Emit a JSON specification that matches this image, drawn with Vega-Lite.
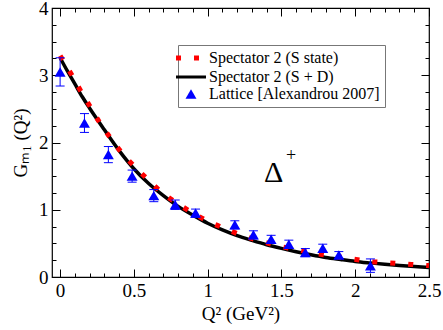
{
  "$schema": "https://vega.github.io/schema/vega-lite/v6.json",
  "width": 377,
  "height": 269,
  "autosize": "none",
  "padding": {"left": 52, "top": 8, "right": 14, "bottom": 53},
  "background": "white",
  "config": {
    "view": {"stroke": "black", "strokeWidth": 1.2},
    "axis": {
      "labelFont": "Liberation Serif",
      "titleFont": "Liberation Serif",
      "labelColor": "black",
      "titleColor": "black",
      "tickColor": "black",
      "domain": false,
      "grid": false,
      "labelFontSize": 19,
      "titleFontSize": 19,
      "titleFontWeight": "normal"
    },
    "legend": {"labelFont": "Liberation Serif", "titleFont": "Liberation Serif"}
  },
  "datasets": {
    "black": [
      {"q": 0, "g": 3.26, "series": "Spectator 2 (S + D)"},
      {"q": 0.05, "g": 3.06, "series": "Spectator 2 (S + D)"},
      {"q": 0.1, "g": 2.87, "series": "Spectator 2 (S + D)"},
      {"q": 0.15, "g": 2.68, "series": "Spectator 2 (S + D)"},
      {"q": 0.2, "g": 2.51, "series": "Spectator 2 (S + D)"},
      {"q": 0.3, "g": 2.19, "series": "Spectator 2 (S + D)"},
      {"q": 0.4, "g": 1.88, "series": "Spectator 2 (S + D)"},
      {"q": 0.5, "g": 1.61, "series": "Spectator 2 (S + D)"},
      {"q": 0.6, "g": 1.39, "series": "Spectator 2 (S + D)"},
      {"q": 0.7, "g": 1.21, "series": "Spectator 2 (S + D)"},
      {"q": 0.8, "g": 1.05, "series": "Spectator 2 (S + D)"},
      {"q": 0.9, "g": 0.92, "series": "Spectator 2 (S + D)"},
      {"q": 1.0, "g": 0.8, "series": "Spectator 2 (S + D)"},
      {"q": 1.1, "g": 0.7, "series": "Spectator 2 (S + D)"},
      {"q": 1.2, "g": 0.615, "series": "Spectator 2 (S + D)"},
      {"q": 1.3, "g": 0.545, "series": "Spectator 2 (S + D)"},
      {"q": 1.4, "g": 0.48, "series": "Spectator 2 (S + D)"},
      {"q": 1.5, "g": 0.425, "series": "Spectator 2 (S + D)"},
      {"q": 1.6, "g": 0.375, "series": "Spectator 2 (S + D)"},
      {"q": 1.7, "g": 0.33, "series": "Spectator 2 (S + D)"},
      {"q": 1.8, "g": 0.29, "series": "Spectator 2 (S + D)"},
      {"q": 1.9, "g": 0.26, "series": "Spectator 2 (S + D)"},
      {"q": 2.0, "g": 0.232, "series": "Spectator 2 (S + D)"},
      {"q": 2.1, "g": 0.21, "series": "Spectator 2 (S + D)"},
      {"q": 2.2, "g": 0.19, "series": "Spectator 2 (S + D)"},
      {"q": 2.3, "g": 0.172, "series": "Spectator 2 (S + D)"},
      {"q": 2.4, "g": 0.155, "series": "Spectator 2 (S + D)"},
      {"q": 2.5, "g": 0.14, "series": "Spectator 2 (S + D)"}
    ],
    "red": [
      {"q": 0, "g": 3.29, "series": "Spectator 2 (S state)"},
      {"q": 0.075, "g": 3.02, "series": "Spectator 2 (S state)"},
      {"q": 0.136, "g": 2.78, "series": "Spectator 2 (S state)"},
      {"q": 0.204, "g": 2.53, "series": "Spectator 2 (S state)"},
      {"q": 0.267, "g": 2.3, "series": "Spectator 2 (S state)"},
      {"q": 0.34, "g": 2.07, "series": "Spectator 2 (S state)"},
      {"q": 0.415, "g": 1.855, "series": "Spectator 2 (S state)"},
      {"q": 0.503, "g": 1.646, "series": "Spectator 2 (S state)"},
      {"q": 0.59, "g": 1.46, "series": "Spectator 2 (S state)"},
      {"q": 0.685, "g": 1.264, "series": "Spectator 2 (S state)"},
      {"q": 0.79, "g": 1.1, "series": "Spectator 2 (S state)"},
      {"q": 0.889, "g": 0.966, "series": "Spectator 2 (S state)"},
      {"q": 1.004, "g": 0.826, "series": "Spectator 2 (S state)"},
      {"q": 1.122, "g": 0.716, "series": "Spectator 2 (S state)"},
      {"q": 1.236, "g": 0.617, "series": "Spectator 2 (S state)"},
      {"q": 1.356, "g": 0.537, "series": "Spectator 2 (S state)"},
      {"q": 1.474, "g": 0.463, "series": "Spectator 2 (S state)"},
      {"q": 1.594, "g": 0.413, "series": "Spectator 2 (S state)"},
      {"q": 1.72, "g": 0.354, "series": "Spectator 2 (S state)"},
      {"q": 1.845, "g": 0.313, "series": "Spectator 2 (S state)"},
      {"q": 1.967, "g": 0.273, "series": "Spectator 2 (S state)"},
      {"q": 2.09, "g": 0.234, "series": "Spectator 2 (S state)"},
      {"q": 2.217, "g": 0.213, "series": "Spectator 2 (S state)"},
      {"q": 2.34, "g": 0.194, "series": "Spectator 2 (S state)"},
      {"q": 2.465, "g": 0.175, "series": "Spectator 2 (S state)"},
      {"q": 2.5, "g": 0.17, "series": "Spectator 2 (S state)"}
    ],
    "lattice": [
      {"q": 0.0, "g": 3.05, "lo": 2.84, "hi": 3.26},
      {"q": 0.165, "g": 2.29, "lo": 2.15, "hi": 2.43},
      {"q": 0.327, "g": 1.82, "lo": 1.7, "hi": 1.94},
      {"q": 0.488, "g": 1.5, "lo": 1.41, "hi": 1.59},
      {"q": 0.635, "g": 1.21, "lo": 1.12, "hi": 1.3},
      {"q": 0.78, "g": 1.075, "lo": 1.005, "hi": 1.145},
      {"q": 0.918, "g": 0.95, "lo": 0.89, "hi": 1.01},
      {"q": 1.184, "g": 0.776, "lo": 0.716, "hi": 0.836},
      {"q": 1.31, "g": 0.627, "lo": 0.567, "hi": 0.687},
      {"q": 1.43, "g": 0.56, "lo": 0.5, "hi": 0.62},
      {"q": 1.55, "g": 0.488, "lo": 0.428, "hi": 0.548},
      {"q": 1.662, "g": 0.363, "lo": 0.303, "hi": 0.423},
      {"q": 1.78, "g": 0.428, "lo": 0.368, "hi": 0.488},
      {"q": 1.889, "g": 0.328, "lo": 0.278, "hi": 0.378},
      {"q": 2.103, "g": 0.169, "lo": 0.069, "hi": 0.269}
    ],
    "delta": [{"q": 1.447, "g": 1.41, "t": "Δ"}],
    "plus": [{"q": 1.565, "g": 1.8, "t": "+"}]
  },
  "resolve": {"axis": {"x": "independent", "y": "independent"}},
  "layer": [
    {
      "data": {"name": "black"},
      "mark": {"type": "line", "strokeWidth": 3.5, "interpolate": "monotone"},
      "encoding": {
        "x": {
          "field": "q", "type": "quantitative",
          "scale": {"domain": [-0.055, 2.5], "nice": false, "zero": false},
          "axis": {"orient": "bottom", "values": [0, 0.5, 1, 1.5, 2, 2.5], "format": "~g", "ticks": false, "labelPadding": 4, "labelFlush": false, "labelOverlap": false, "title": "Q² (GeV²)", "titlePadding": 4}
        },
        "y": {
          "field": "g", "type": "quantitative",
          "scale": {"domain": [0, 4], "nice": false, "zero": false},
          "axis": {"orient": "left", "values": [0, 1, 2, 3, 4], "format": "d", "ticks": false, "labelPadding": 4, "labelFlush": false, "labelOverlap": false, "title": "Gₘ₁ (Q²)", "titlePadding": 8}
        },
        "color": {
          "field": "series", "type": "nominal",
          "scale": {"domain": ["Spectator 2 (S state)", "Spectator 2 (S + D)", "Lattice [Alexandrou 2007]"], "range": ["#ff0000", "#000000", "#0000ff"]},
          "legend": {
            "title": null, "orient": "none", "legendX": 126, "legendY": 37,
            "strokeColor": "#777777", "fillColor": "white", "padding": 5,
            "labelFont": "Liberation Serif", "labelFontSize": 16, "labelColor": "black", "labelLimit": 300,
            "labelOffset": 10, "rowPadding": 1,
            "symbolType": "stroke", "symbolSize": 900, "symbolStrokeWidth": 3,
            "encode": {
              "labels": {"update": {"font": {"value": "Liberation Serif"}, "fontSize": {"value": 16}}},
              "symbols": {
                "update": {
                  "shape": {"signal": "datum.value === 'Lattice [Alexandrou 2007]' ? 'triangle-up' : 'stroke'"},
                  "size": {"signal": "datum.value === 'Lattice [Alexandrou 2007]' ? 120 : 900"},
                  "strokeDash": {"signal": "datum.value === 'Spectator 2 (S state)' ? [5, 13] : [1, 0]"},
                  "strokeWidth": {"signal": "datum.value === 'Spectator 2 (S state)' ? 5 : (datum.value === 'Lattice [Alexandrou 2007]' ? 0 : 3)"},
                  "fill": {"signal": "datum.value === 'Lattice [Alexandrou 2007]' ? '#0000ff' : 'transparent'"},
                  "fillOpacity": {"value": 1},
                  "strokeCap": {"value": "butt"}
                }
              }
            }
          }
        }
      }
    },
    {
      "data": {"name": "red"},
      "mark": {"type": "line", "strokeWidth": 5, "strokeDash": [5, 13], "strokeCap": "butt", "interpolate": "monotone"},
      "encoding": {
        "x": {"field": "q", "type": "quantitative", "axis": {"orient": "bottom", "values": [0, 0.5, 1, 1.5, 2, 2.5], "labels": false, "tickSize": -8, "title": null}},
        "y": {"field": "g", "type": "quantitative", "axis": {"orient": "left", "values": [0, 1, 2, 3, 4], "labels": false, "tickSize": -8, "title": null}},
        "color": {"field": "series", "type": "nominal"}
      }
    },
    {
      "data": {"name": "lattice"},
      "mark": {"type": "rule", "color": "#0000ff", "strokeWidth": 1},
      "encoding": {
        "x": {"field": "q", "type": "quantitative", "axis": {"orient": "bottom", "values": [0, 0.1, 0.2, 0.3, 0.4, 0.5, 0.6, 0.7, 0.8, 0.9, 1, 1.1, 1.2, 1.3, 1.4, 1.5, 1.6, 1.7, 1.8, 1.9, 2, 2.1, 2.2, 2.3, 2.4, 2.5], "labels": false, "tickSize": -4, "title": null}},
        "y": {"field": "lo", "type": "quantitative", "axis": {"orient": "left", "values": [0, 0.25, 0.5, 0.75, 1, 1.25, 1.5, 1.75, 2, 2.25, 2.5, 2.75, 3, 3.25, 3.5, 3.75, 4], "labels": false, "tickSize": -4, "title": null}},
        "y2": {"field": "hi"}
      }
    },
    {
      "data": {"name": "lattice"},
      "mark": {"type": "tick", "orient": "horizontal", "color": "#0000ff", "size": 9, "thickness": 1, "opacity": 1},
      "encoding": {
        "x": {"field": "q", "type": "quantitative", "axis": {"orient": "top", "values": [0, 0.5, 1, 1.5, 2, 2.5], "labels": false, "tickSize": -8, "title": null}},
        "y": {"field": "hi", "type": "quantitative", "axis": {"orient": "right", "values": [0, 1, 2, 3, 4], "labels": false, "tickSize": -8, "title": null}}
      }
    },
    {
      "data": {"name": "lattice"},
      "mark": {"type": "tick", "orient": "horizontal", "color": "#0000ff", "size": 9, "thickness": 1, "opacity": 1},
      "encoding": {
        "x": {"field": "q", "type": "quantitative", "axis": {"orient": "top", "values": [0, 0.1, 0.2, 0.3, 0.4, 0.5, 0.6, 0.7, 0.8, 0.9, 1, 1.1, 1.2, 1.3, 1.4, 1.5, 1.6, 1.7, 1.8, 1.9, 2, 2.1, 2.2, 2.3, 2.4, 2.5], "labels": false, "tickSize": -4, "title": null}},
        "y": {"field": "lo", "type": "quantitative", "axis": {"orient": "right", "values": [0, 0.25, 0.5, 0.75, 1, 1.25, 1.5, 1.75, 2, 2.25, 2.5, 2.75, 3, 3.25, 3.5, 3.75, 4], "labels": false, "tickSize": -4, "title": null}}
      }
    },
    {
      "data": {"name": "lattice"},
      "mark": {"type": "point", "shape": "triangle-up", "filled": true, "color": "#0000ff", "size": 120, "opacity": 1},
      "encoding": {
        "x": {"field": "q", "type": "quantitative", "axis": null},
        "y": {"field": "g", "type": "quantitative", "axis": null}
      }
    },
    {
      "data": {"name": "delta"},
      "mark": {"type": "text", "font": "Liberation Serif", "fontSize": 30, "align": "center", "baseline": "alphabetic", "color": "black"},
      "encoding": {
        "x": {"field": "q", "type": "quantitative", "axis": null},
        "y": {"field": "g", "type": "quantitative", "axis": null},
        "text": {"field": "t"}
      }
    },
    {
      "data": {"name": "plus"},
      "mark": {"type": "text", "font": "Liberation Serif", "fontSize": 18, "align": "center", "baseline": "middle", "color": "black"},
      "encoding": {
        "x": {"field": "q", "type": "quantitative", "axis": null},
        "y": {"field": "g", "type": "quantitative", "axis": null},
        "text": {"field": "t"}
      }
    }
  ]
}
